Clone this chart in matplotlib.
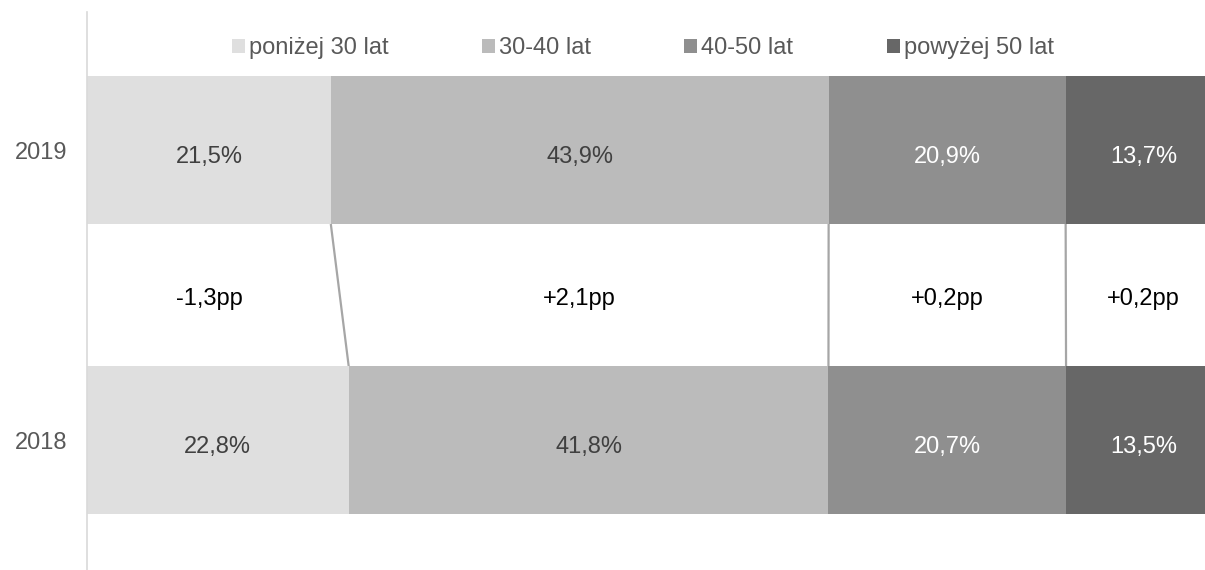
import matplotlib
matplotlib.use("Agg")
import matplotlib.pyplot as plt
import matplotlib.transforms as mtransforms
import numpy as np

plt.rcParams['font.family'] = ['Liberation Sans', 'DejaVu Sans']

years = ['2018', '2019']
categories = ['poniżej 30 lat', '30-40 lat', '40-50 lat', 'powyżej 50 lat']
values_2018 = [22.8, 41.8, 20.7, 13.5]
values_2019 = [21.5, 43.9, 20.9, 13.7]
changes_pp = [-1.3, 2.1, 0.2, 0.2]

colors = ['#DFDFDF', '#BBBBBB', '#8F8F8F', '#676767']
label_colors = ['#404040', '#404040', '#FFFFFF', '#FFFFFF']

W, H = 1205, 570
fig = plt.figure(figsize=(W / 100, H / 100), dpi=100)
ax = fig.add_axes([87 / W, 0, 1134 / W, 558 / H])

data = {'2018': values_2018, '2019': values_2019}
ypos = {'2018': 0, '2019': 1}
bar_h = 0.51

# 100% stacked: normalise each year's row
norm = {}
for yr in years:
    v = np.array(data[yr], dtype=float)
    norm[yr] = v / v.sum() * 100

fs = 17
for i, cat in enumerate(categories):
    lefts = [norm[yr][:i].sum() for yr in years]
    widths = [norm[yr][i] for yr in years]
    bars = ax.barh([ypos[yr] for yr in years], widths, left=lefts, height=bar_h,
                   color=colors[i], edgecolor='none', label=cat, zorder=2)
    labs = [f"{data[yr][i]:.1f}%".replace('.', ',') for yr in years]
    anns = ax.bar_label(bars, labels=labs, label_type='center', color=label_colors[i],
                        fontsize=fs)
    for a in anns:
        a.xyann = (0, -5)

# series connector lines
cum18 = np.cumsum(norm['2018'])
cum19 = np.cumsum(norm['2019'])
for i in range(len(categories)):
    ax.plot([cum19[i], cum18[i]], [1 - bar_h / 2, 0 + bar_h / 2],
            color='#A6A6A6', lw=1.6, zorder=1, solid_capstyle='butt')

# change labels between bars
starts19 = np.concatenate([[0], cum19[:-1]])
off = mtransforms.offset_copy(ax.transData, fig=fig, x=0, y=-3, units='points')
for i, d in enumerate(changes_pp):
    s = f"{d:+.1f}pp".replace('.', ',')
    ax.text(starts19[i] + norm['2019'][i] / 2, 0.5, s, ha='center', va='center',
            fontsize=fs, color='black', transform=off)

ax.set_xlim(0, 100)
ax.set_ylim(-0.448, 1.476)
ax.set_yticks([ypos[yr] for yr in years])
ax.set_yticklabels(years, fontsize=fs, color='#595959')
ax.tick_params(axis='y', length=0, pad=14)
ax.set_xticks([])
for sp in ['top', 'right', 'bottom']:
    ax.spines[sp].set_visible(False)
ax.spines['left'].set_color('#D9D9D9')
ax.spines['left'].set_linewidth(1.2)

leg = fig.legend(loc='center', bbox_to_anchor=(643 / W, 1 - 48 / H), ncol=4,
                 frameon=False, fontsize=fs, handlelength=0.55, handleheight=0.55,
                 handletextpad=0.17, columnspacing=3.95, borderpad=0,
                 labelcolor='#595959')

fig.savefig('out.png', dpi=100, facecolor='white')
